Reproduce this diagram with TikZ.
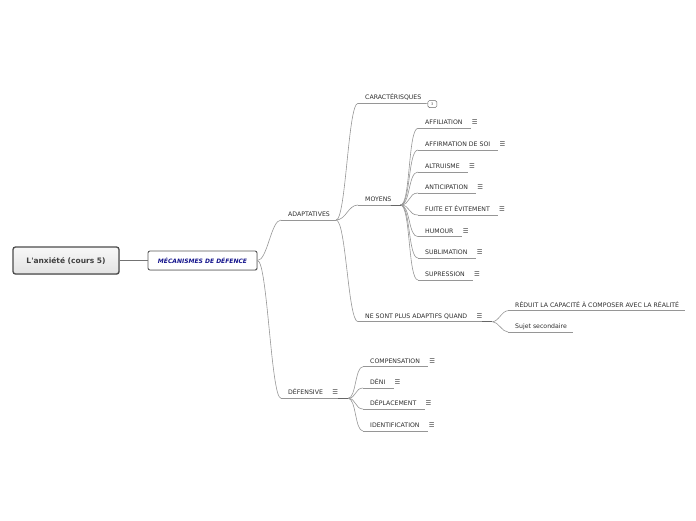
\documentclass[tikz,border=0pt]{standalone}
\usepackage{fontspec}
\setmainfont{DejaVu Sans}
\usetikzlibrary{calc, shadows}
\definecolor{linegray}{RGB}{150,150,150}
\definecolor{textgray}{RGB}{45,45,45}
\definecolor{titleblue}{RGB}{20,20,140}
% #1 = how far the rule runs past the text, #2 = name, #3,#4 = start of the rule, #5 = text
\newcommand{\topic}[5][6pt]{%
    \coordinate (#2-s) at (#3,#4);
    \node [topic] (#2) at ([xshift=7pt,yshift=3.5pt]#2-s) {#5};
    \path (#2.base east |- #2-s) ++(#1,0) coordinate (#2-e);
    \draw [uline] (#2-s) -- (#2-e);
}
\newcommand{\notes}[1]{\node [notes] (#1-n) at ([xshift=12pt]#1.base east) {☰};}

\begin{document}
\begin{tikzpicture}[
                x=1pt, y=-1pt,
                topic/.style={
                    anchor=base west,
                    inner sep=0pt,
                    text=textgray,
                    font=\fontsize{6.2}{7}\selectfont,
                },
                notes/.style={
                    anchor=base,
                    inner sep=0pt,
                    text=black!75,
                    font=\fontsize{6.4}{7}\selectfont,
                },
                uline/.style={draw=linegray, line width=0.6pt},
                tail/.style={draw=black!60, line width=0.8pt},
                branch/.style={
                    uline,
                    to path={.. controls +(#1,0) and +(-#1,0) .. (\tikztotarget)},
                },
                branch/.default=10,
                badge/.style={
                    draw=black!60, line width=0.5pt,
                    rounded corners=1.5pt,
                    minimum width=9pt, minimum height=7pt, inner sep=0pt,
                    text=black!70, font=\fontsize{3.5}{4}\selectfont,
                },
                rootbox/.style={
                    rounded corners=2.5pt,
                    draw=black!70, line width=1.3pt,
                    top color=gray!6, bottom color=gray!22,
                    minimum width=106pt, minimum height=27pt,
                    text=black!75, font=\bfseries\fontsize{7.5}{9}\selectfont,
                    drop shadow={shadow xshift=0.8pt, shadow yshift=-0.8pt, opacity=0.25},
                },
                mainbox/.style={
                    rounded corners=2pt,
                    draw=black!65, line width=0.9pt, fill=white,
                    minimum width=109pt, minimum height=19pt,
                    text=titleblue, font=\bfseries\itshape\fontsize{6}{7}\selectfont,
                    drop shadow={shadow xshift=0.8pt, shadow yshift=-0.8pt, opacity=0.25},
                },
            ]
            \useasboundingbox (0,0) rectangle (696,520);

            \node [rootbox] (root) at (66,260.5) {L\textquotesingle anxiété (cours 5)};
            \node [mainbox] (main) at (202.5,260.5) {MÉCANISMES DE DÉFENCE};
            \draw [draw=black!55, line width=0.8pt] (root) -- (main);

            \topic{adapt}{281}{220}{ADAPTATIVES}
            \topic[25pt]{def}{281}{398.3}{DÉFENSIVE}
            \notes{def}
            \draw [branch] (main.east) to (adapt-s);
            \draw [branch] (main.east) to (def-s);

            \topic[4pt]{car}{358}{103.3}{CARACTÉRISQUES}
            \node [badge, anchor=west] (car-b) at ([xshift=2pt,yshift=-0.8pt]car-e) {3};
            \topic[9pt]{moy}{358}{205}{MOYENS}
            \topic[25pt]{nsp}{358}{321.7}{NE SONT PLUS ADAPTIFS QUAND}
            \notes{nsp}
            \foreach \n in {car, moy, nsp}
                \draw [branch] (adapt-e) to (\n-s);
            \draw [uline] (car-e) -- (car-b);

            \foreach \n/\y/\t in {aff/128.3/AFFILIATION, afs/150/AFFIRMATION DE SOI,
                    alt/172/ALTRUISME, ant/193/ANTICIPATION, fui/215/FUITE ET ÉVITEMENT,
                    hum/236.7/HUMOUR, sub/258/SUBLIMATION, sup/280/SUPRESSION} {
                \topic[8pt]{\n}{418}{\y}{\t}
                \notes{\n}
                \draw [branch] (moy-e) to (\n-s);
            }

            \topic{red}{508}{310.7}{RÉDUIT LA CAPACITÉ À COMPOSER AVEC LA RÉALITÉ}
            \topic{suj}{508}{332}{Sujet secondaire}
            \draw [branch=6] (nsp-e) to (red-s);
            \draw [branch=6] (nsp-e) to (suj-s);

            \foreach \n/\y/\t in {comp/366.7/COMPENSATION, deni/388/DÉNI,
                    depl/409/DÉPLACEMENT, iden/431/IDENTIFICATION} {
                \topic[8pt]{\n}{363}{\y}{\t}
                \notes{\n}
                \draw [branch=8] (def-e) to (\n-s);
            }

            \foreach \n in {moy, nsp, def}
                \draw [tail] ([xshift=-10pt]\n-e) -- (\n-e);
        \end{tikzpicture}
\end{document}
